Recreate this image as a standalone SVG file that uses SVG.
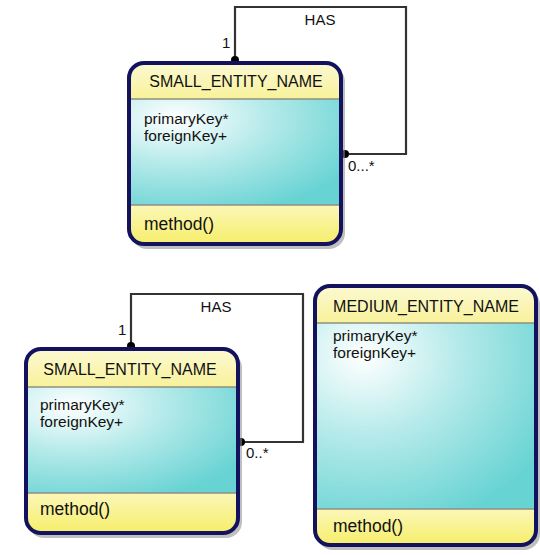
<svg xmlns="http://www.w3.org/2000/svg" width="540" height="555" viewBox="0 0 540 555">
  <style>
    .frame { fill: none; stroke: #12125e; stroke-width: 4; }
    .shadow { fill: #8a8a8a; opacity: 0.55; }
    .divider { stroke: #8f8f80; stroke-width: 1.5; }
    .title { font-family: "Liberation Sans", Arial, sans-serif; font-size: 16px; fill: #111; text-anchor: middle; }
    .attr { font-family: "Liberation Sans", Arial, sans-serif; font-size: 15.5px; fill: #111; }
    .op { font-family: "Liberation Sans", Arial, sans-serif; font-size: 17.5px; fill: #111; }
    .lbl { font-family: "Liberation Sans", Arial, sans-serif; font-size: 15px; fill: #111; }
    .link { fill: none; stroke: #333; stroke-width: 2.2; }
    .dot { fill: #000; }
  </style>
  <defs>
    <linearGradient id="hdr" x1="0" y1="0" x2="0" y2="1">
      <stop offset="0" stop-color="#fcf9d2"/>
      <stop offset="1" stop-color="#f8f29a"/>
    </linearGradient>
    <linearGradient id="mth" x1="0" y1="0" x2="0" y2="1">
      <stop offset="0" stop-color="#fbf7b8"/>
      <stop offset="1" stop-color="#f6ee6a"/>
    </linearGradient>
    <radialGradient id="body" cx="0.22" cy="0.18" r="0.95" fx="0.22" fy="0.18">
      <stop offset="0" stop-color="#ffffff"/>
      <stop offset="0.45" stop-color="#b6eaea"/>
      <stop offset="1" stop-color="#68d3d3"/>
    </radialGradient>
    <clipPath id="c1"><rect x="129" y="63" width="212" height="181" rx="15"/></clipPath>
    <clipPath id="c2"><rect x="26" y="349" width="212" height="184" rx="15"/></clipPath>
    <clipPath id="c3"><rect x="315" y="286" width="221" height="259" rx="15"/></clipPath>
  </defs>

  <!-- self relationships -->
  <g id="connectors">
    <path class="link" d="M235,61 V7 H406 V154 H345"/>
    <circle class="dot" cx="235" cy="60" r="4"/>
    <circle class="dot" cx="345" cy="154" r="4"/>
    <text class="lbl" x="222" y="48">1</text>
    <text class="lbl" x="320" y="25" text-anchor="middle">HAS</text>
    <text class="lbl" x="348" y="171" font-size="14">0...*</text>

    <path class="link" d="M131,347 V294 H303 V442 H241"/>
    <circle class="dot" cx="131" cy="346" r="4"/>
    <circle class="dot" cx="241" cy="442" r="4"/>
    <text class="lbl" x="118" y="335">1</text>
    <text class="lbl" x="216" y="312" text-anchor="middle">HAS</text>
    <text class="lbl" x="246" y="458" font-size="14">0..*</text>
  </g>

  <!-- entity (top) -->
  <g id="entity-top">
    <rect class="shadow" x="131" y="66" width="214" height="183" rx="16"/>
    <g clip-path="url(#c1)">
      <rect x="129" y="63" width="212" height="36" fill="url(#hdr)"/>
      <rect x="129" y="99" width="212" height="106" fill="url(#body)"/>
      <rect x="129" y="205" width="212" height="39" fill="url(#mth)"/>
      <line class="divider" x1="129" y1="99" x2="341" y2="99"/>
      <line class="divider" x1="129" y1="205" x2="341" y2="205"/>
    </g>
    <rect class="frame" x="129" y="63" width="212" height="181" rx="15"/>
    <text class="title" x="236" y="87">SMALL_ENTITY_NAME</text>
    <text class="attr" x="144" y="124">primaryKey*</text>
    <text class="attr" x="144" y="141">foreignKey+</text>
    <text class="op" x="144" y="230">method()</text>
  </g>

  <!-- entity (bottom left) -->
  <g id="entity-left">
    <rect class="shadow" x="28" y="352" width="214" height="186" rx="16"/>
    <g clip-path="url(#c2)">
      <rect x="26" y="349" width="212" height="38" fill="url(#hdr)"/>
      <rect x="26" y="387" width="212" height="106" fill="url(#body)"/>
      <rect x="26" y="493" width="212" height="40" fill="url(#mth)"/>
      <line class="divider" x1="26" y1="387" x2="238" y2="387"/>
      <line class="divider" x1="26" y1="493" x2="238" y2="493"/>
    </g>
    <rect class="frame" x="26" y="349" width="212" height="184" rx="15"/>
    <text class="title" x="130" y="375">SMALL_ENTITY_NAME</text>
    <text class="attr" x="40" y="410">primaryKey*</text>
    <text class="attr" x="40" y="427">foreignKey+</text>
    <text class="op" x="40" y="515">method()</text>
  </g>

  <!-- entity (medium) -->
  <g id="entity-medium">
    <rect class="shadow" x="317" y="289" width="223" height="261" rx="16"/>
    <g clip-path="url(#c3)">
      <rect x="315" y="286" width="221" height="37" fill="url(#hdr)"/>
      <rect x="315" y="323" width="221" height="186" fill="url(#body)"/>
      <rect x="315" y="509" width="221" height="36" fill="url(#mth)"/>
      <line class="divider" x1="315" y1="323" x2="536" y2="323"/>
      <line class="divider" x1="315" y1="509" x2="536" y2="509"/>
    </g>
    <rect class="frame" x="315" y="286" width="221" height="259" rx="15"/>
    <text class="title" x="426" y="312">MEDIUM_ENTITY_NAME</text>
    <text class="attr" x="333" y="341">primaryKey*</text>
    <text class="attr" x="333" y="358">foreignKey+</text>
    <text class="op" x="333" y="532">method()</text>
  </g>
</svg>
